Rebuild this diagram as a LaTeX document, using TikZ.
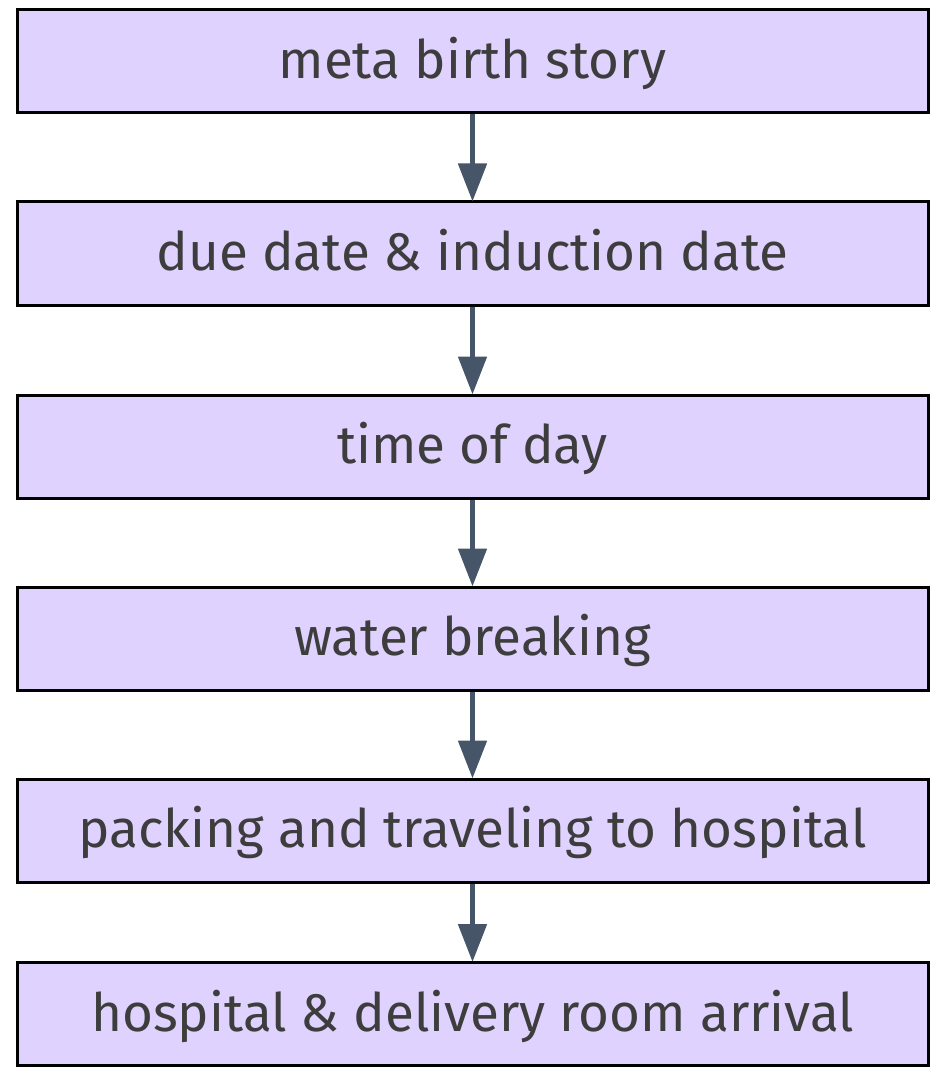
\documentclass[tikz,border=0pt]{standalone}
\usepackage{fontspec}
\setmainfont{Fira Sans}
\usetikzlibrary{arrows.meta}
\definecolor{boxfill}{HTML}{E0D2FE}
\definecolor{boxtext}{HTML}{3D3D3D}
\definecolor{linkcol}{HTML}{475569}
\tikzset{
  stage/.style={draw=black, line width=3pt, fill=boxfill, text=boxtext,
    minimum width=911pt, minimum height=103pt, inner sep=0pt,
    text height=44pt, text depth=10pt,
    font=\fontsize{53}{58}\selectfont},
  link/.style={draw=linkcol, line width=5pt,
    -{Triangle[length=38pt,width=28pt]}, shorten >=-1pt}
}
\begin{document}
\begin{tikzpicture}[x=1pt,y=1pt]
  \useasboundingbox (0,0) rectangle (935,-1067);
  \node[stage] (s1) at (472.5,-61.5)  {meta birth story};
  \node[stage] (s2) at (472.5,-253.5) {due date \& induction date};
  \node[stage] (s3) at (472.5,-446.5) {time of day};
  \node[stage] (s4) at (472.5,-638.5) {water breaking};
  \node[stage] (s5) at (472.5,-830.5) {packing and traveling to hospital};
  \node[stage] (s6) at (472.5,-1014)  {hospital \& delivery room arrival};
  \draw[link] (s1.south) -- (s2.north);
  \draw[link] (s2.south) -- (s3.north);
  \draw[link] (s3.south) -- (s4.north);
  \draw[link] (s4.south) -- (s5.north);
  \draw[link] (s5.south) -- (s6.north);
\end{tikzpicture}
\end{document}
